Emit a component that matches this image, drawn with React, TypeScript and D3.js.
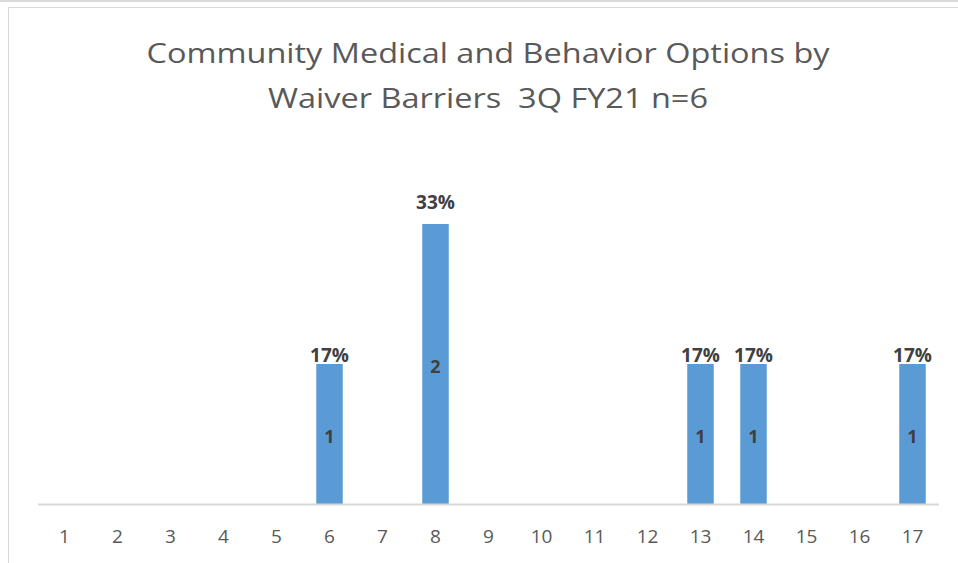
import React, { useEffect, useRef } from 'react';
import * as d3 from 'd3';

// categories (barrier numbers) and counts
const categories = ['1', '2', '3', '4', '5', '6', '7', '8', '9', '10', '11', '12', '13', '14', '15', '16', '17'];
const counts = [0, 0, 0, 0, 0, 1, 0, 2, 0, 0, 0, 0, 1, 1, 0, 0, 1];
const total = 6;
const titleLines = ['Community Medical and Behavior Options by', 'Waiver Barriers  3Q FY21 n=6'];

const App = () => {
  const svgRef = useRef<SVGSVGElement>(null);

  useEffect(() => {
    const width = 958;
    const height = 563;
    const svg = d3.select(svgRef.current);
    svg.selectAll('*').remove();
    svg.attr('width', width).attr('height', height);

    const font = 'Open Sans, sans-serif';

    // top strip + chart frame
    svg.append('rect').attr('x', 0).attr('y', 0).attr('width', width).attr('height', 2).attr('fill', '#d9d9d9');
    svg.append('rect')
      .attr('x', 8.5).attr('y', 7.5)
      .attr('width', width).attr('height', height)
      .attr('fill', '#fff').attr('stroke', '#d9d9d9');

    // title
    const titleWidths = [683, 440];
    svg.append('g').selectAll('text')
      .data(titleLines)
      .enter()
      .append('text')
      .attr('x', 488)
      .attr('y', (d, i) => 63 + i * 45)
      .attr('text-anchor', 'middle')
      .attr('textLength', (d, i) => titleWidths[i])
      .attr('lengthAdjust', 'spacingAndGlyphs')
      .style('font-family', font)
      .style('font-size', '28px')
      .style('white-space', 'pre')
      .attr('fill', '#595959')
      .text(d => d);

    const x = d3.scaleBand().domain(categories).range([38, 939]).paddingInner(0.5).paddingOuter(0.25);
    const y = d3.scaleLinear().domain([0, 2]).range([504, 224]);

    const data = categories.map((c, i) => ({ c, v: counts[i] }));
    const nonzero = data.filter(d => d.v > 0);

    svg.append('g').selectAll('rect')
      .data(nonzero)
      .enter()
      .append('rect')
      .attr('x', d => x(d.c)!)
      .attr('y', d => y(d.v))
      .attr('width', x.bandwidth())
      .attr('height', d => y(0) - y(d.v))
      .attr('fill', '#5b9bd5');

    // axis line
    svg.append('line')
      .attr('x1', 38).attr('x2', 939)
      .attr('y1', 504.5).attr('y2', 504.5)
      .attr('stroke', '#d9d9d9').attr('stroke-width', 2);

    // tick labels
    svg.append('g').selectAll('text')
      .data(categories)
      .enter()
      .append('text')
      .attr('x', d => x(d)! + x.bandwidth() / 2)
      .attr('y', 543)
      .attr('text-anchor', 'middle')
      .style('font-family', font)
      .style('font-size', '19px')
      .attr('fill', '#595959')
      .text(d => d);

    // percent labels
    svg.append('g').selectAll('text')
      .data(nonzero)
      .enter()
      .append('text')
      .attr('x', d => x(d.c)! + x.bandwidth() / 2)
      .attr('y', d => y(d.v) - (d.v > 1 ? 15 : 2))
      .attr('text-anchor', 'middle')
      .style('font-family', font)
      .style('font-size', '19px')
      .style('font-weight', 'bold')
      .attr('fill', '#404040')
      .text(d => `${Math.round((d.v / total) * 100)}%`);

    // count labels
    svg.append('g').selectAll('text')
      .data(nonzero)
      .enter()
      .append('text')
      .attr('x', d => x(d.c)! + x.bandwidth() / 2)
      .attr('y', d => (y(d.v) + y(0)) / 2 + 9)
      .attr('text-anchor', 'middle')
      .style('font-family', font)
      .style('font-size', '18px')
      .style('font-weight', 'bold')
      .attr('fill', '#404040')
      .text(d => d.v);
  }, []);

  return (
    <div style={{ position: 'absolute', left: 0, top: 0 }}>
      <svg ref={svgRef} style={{ display: 'block' }}></svg>
    </div>
  );
};

export default App;
